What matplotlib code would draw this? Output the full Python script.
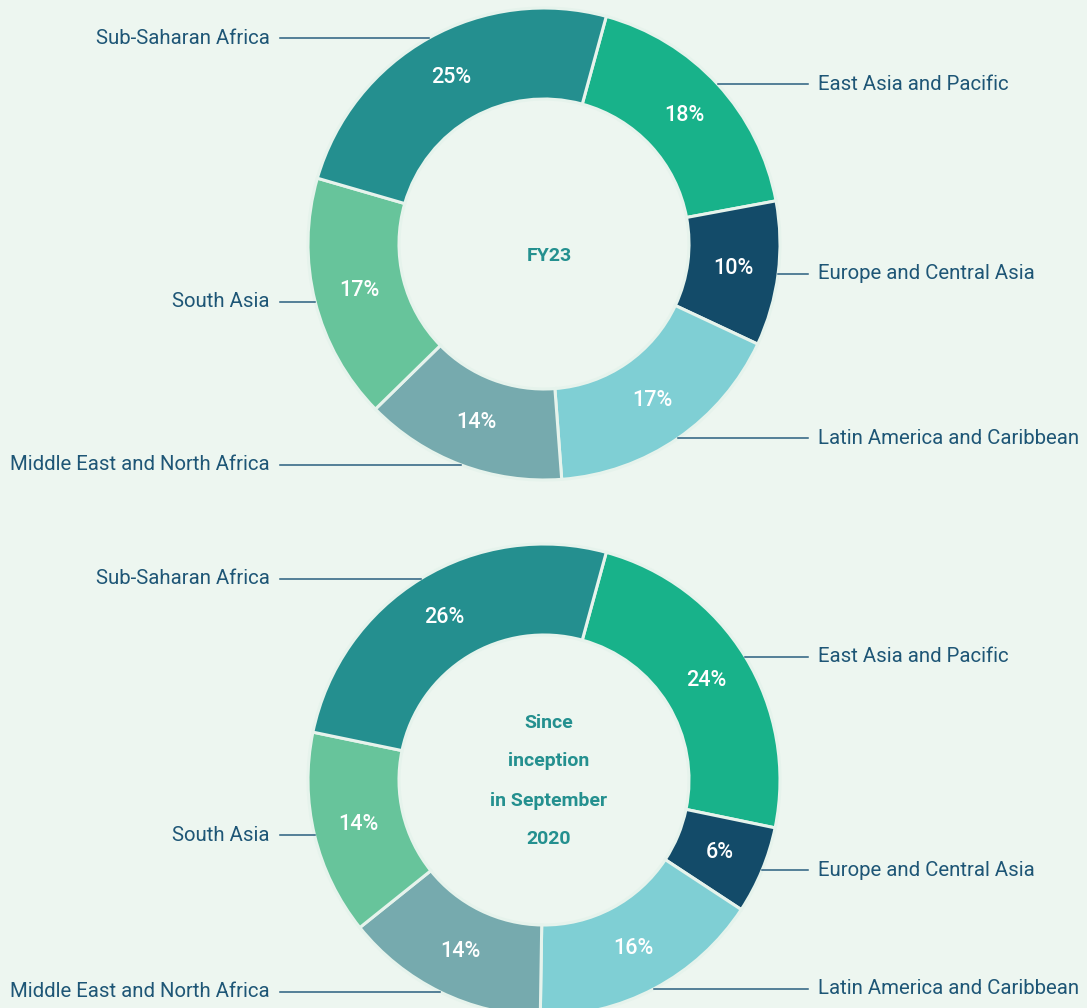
import numpy as np
import matplotlib
matplotlib.use('Agg')
import matplotlib.pyplot as plt

plt.rcParams['font.family'] = ['Roboto', 'DejaVu Sans']

# data
regions = ['East Asia and Pacific', 'Europe and Central Asia', 'Latin America and Caribbean',
           'Middle East and North Africa', 'South Asia', 'Sub-Saharan Africa']
fy23 = [18, 10, 17, 14, 17, 25]
since_inception = [24, 6, 16, 14, 14, 26]
centre_titles = ['FY23', 'Since\ninception\nin September\n2020']

colors = ['#18B28A', '#134B69', '#7FCFD4', '#76AAAE', '#67C49B', '#248F8F']
bg = '#EDF6F0'
label_col = '#1E5676'
line_col = '#2A5F7F'
centre_col = '#24908F'

W, H = 1087, 1008
fig = plt.figure(figsize=(W / 100, H / 100), dpi=100, facecolor=bg)
ax = fig.add_axes([0, 0, 1, 1])
ax.set_facecolor(bg)

R_OUT, R_IN = 236, 145
CX = 544
centres_y = [H - 244, H - 780]
title_shift = [-12, -1]
start_angle = 90 - 15.3  # first wedge begins ~15 deg clockwise of 12 o'clock
LEFT_END, RIGHT_END = 280, 808


def donut(vals, cy, title, dy):
    wedges, _ = ax.pie(vals, colors=colors, center=(CX, cy), radius=R_OUT,
                       startangle=start_angle, counterclock=False, frame=True,
                       wedgeprops=dict(width=R_OUT - R_IN, edgecolor='#E6F3EC', linewidth=2.2))
    for w, v, name in zip(wedges, vals, regions):
        mid = np.deg2rad((w.theta1 + w.theta2) / 2)
        r_mid = (R_OUT + R_IN) / 2
        ax.text(CX + r_mid * np.cos(mid), cy + r_mid * np.sin(mid), f'{v}%',
                ha='center', va='center', color='white', fontsize=15.5, fontweight='medium')
        px, py = CX + R_OUT * np.cos(mid), cy + R_OUT * np.sin(mid)
        if px >= CX:
            ax.plot([px, RIGHT_END], [py, py], color=line_col, lw=1.1)
            ax.text(RIGHT_END + 10, py, name, ha='left', va='center', color=label_col, fontsize=14.7)
        else:
            ax.plot([LEFT_END, px], [py, py], color=line_col, lw=1.1)
            ax.text(LEFT_END - 10, py, name, ha='right', va='center', color=label_col, fontsize=14.7)
    ax.text(CX + 5, cy + dy, title, ha='center', va='center', color=centre_col,
            fontsize=14, fontweight='bold', linespacing=2.5)


donut(fy23, centres_y[0], centre_titles[0], title_shift[0])
donut(since_inception, centres_y[1], centre_titles[1], title_shift[1])

ax.set_xlim(0, W)
ax.set_ylim(0, H)
ax.set_aspect('auto')
ax.axis('off')

fig.savefig('out.png', dpi=100, facecolor=bg)
